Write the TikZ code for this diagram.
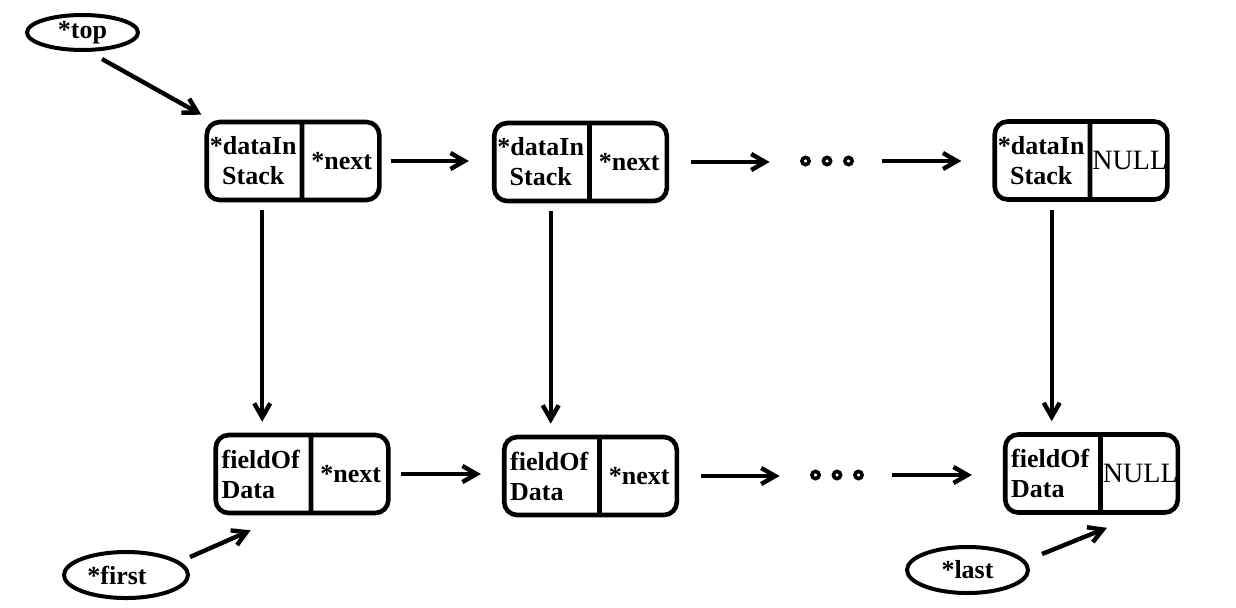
\documentclass[tikz,border=0pt]{standalone}
\usepackage{fontspec}
\setmainfont{Liberation Serif}
\usetikzlibrary{shapes.multipart, shapes.geometric, arrows.meta, positioning}

\newcommand{\lcell}[1]{\parbox[c][39pt][c]{46.5pt}{\centering #1}}
\newcommand{\lcellleft}[1]{\parbox[c][39pt][c]{46.5pt}{\raggedright\leftskip=3pt #1}}
\newcommand{\rcell}[1]{\parbox[c][39pt][c]{37.5pt}{\centering #1}}
\newcommand{\nullcell}{\rcell{\mdseries\fontsize{14}{15}\selectfont NULL}}

\begin{document}
\begin{tikzpicture}[
    x=0.5pt, y=-0.5pt,
    every node/.style={font=\bfseries\fontsize{13}{15}\selectfont},
    cellbox/.style={rectangle split, rectangle split horizontal, rectangle split parts=2,
                    draw, line width=2.3pt, rounded corners=6.5pt, inner sep=0pt},
    ptr/.style={ellipse, draw, line width=2pt, inner sep=0pt},
    gap/.style={minimum width=28pt, minimum height=6pt, inner sep=0pt},
    arr/.style={-{Straight Barb[length=7pt, width=8pt]}, line width=2.2pt}
]
\useasboundingbox (0,0) rectangle (1236,607);

% stack row
\node[cellbox] (s1) at (293,161) {\lcell{*dataIn\\Stack}\nodepart{two}\rcell{*next}};
\node[cellbox] (s2) at (580.5,162) {\lcell{*dataIn\\Stack}\nodepart{two}\rcell{*next}};
\node[gap] (gapTop) at (827,161) {};
\node[cellbox] (s3) at (1081,160.5) {\lcell{*dataIn\\Stack}\nodepart{two}\nullcell};

% data row
\node[cellbox] (d1) at (302,474) {\lcellleft{fieldOf\\Data}\nodepart{two}\rcell{*next}};
\node[cellbox] (d2) at (590.5,476) {\lcellleft{fieldOf\\Data}\nodepart{two}\rcell{*next}};
\node[gap] (gapBot) at (837,475) {};
\node[cellbox] (d3) at (1091.5,473.5) {\lcellleft{fieldOf\\Data}\nodepart{two}\nullcell};

% pointers
\node[ptr, minimum width=55.5pt, minimum height=17.5pt] (top) at (82.5,32.5) {*top};
\node[ptr, minimum width=62pt, minimum height=23pt] (first) at (126,575) {*first\rule{9pt}{0pt}};
\node[ptr, minimum width=60.5pt, minimum height=23pt] (last) at (967.5,570) {*last};

\foreach \dx in {-10.75,0,10.75} {
  \draw[line width=1.8pt] ([xshift=\dx pt]gapTop.center) circle[radius=1.8pt];
  \draw[line width=1.8pt] ([xshift=\dx pt]gapBot.center) circle[radius=1.8pt];
}

\draw[arr] ([xshift=9.75pt, yshift=-3.5pt]top.south) -- ([xshift=-1.5pt, yshift=2.5pt]s1.north west);
\draw[arr] ([yshift=9pt]first.east) -- ([xshift=-5.75pt, yshift=-7.5pt]d1.one south);
\draw[arr] ([xshift=6pt, yshift=8pt]last.east) -- ([xshift=7.75pt, yshift=-6.5pt]d3.south);

\draw[arr, shorten <=4.5pt, shorten >=11.5pt] (s1.east) -- (s1.east -| s2.west);
\draw[arr, shorten <=11pt, shorten >=14.5pt] (s2.east) -- (s2.east -| gapTop.west);
\draw[arr, shorten <=13.5pt, shorten >=15.5pt] (gapTop.east) -- (gapTop.east -| s3.west);
\draw[arr, shorten <=5pt, shorten >=10.5pt] (d1.east) -- (d1.east -| d2.west);
\draw[arr, shorten <=11pt, shorten >=14.5pt] (d2.east) -- (d2.east -| gapBot.west);
\draw[arr, shorten <=13.5pt, shorten >=15.5pt] (gapBot.east) -- (gapBot.east -| d3.west);

\draw[arr, shorten <=4pt, shorten >=5.5pt] (s1.south -| d1.one north) -- (d1.one north);
\draw[arr, shorten <=4pt, shorten >=5.5pt] (s2.south -| d2.one north) -- (d2.one north);
\draw[arr, shorten <=4pt, shorten >=5.5pt] (s3.south -| d3.one north) -- (d3.one north);
\end{tikzpicture}
\end{document}
